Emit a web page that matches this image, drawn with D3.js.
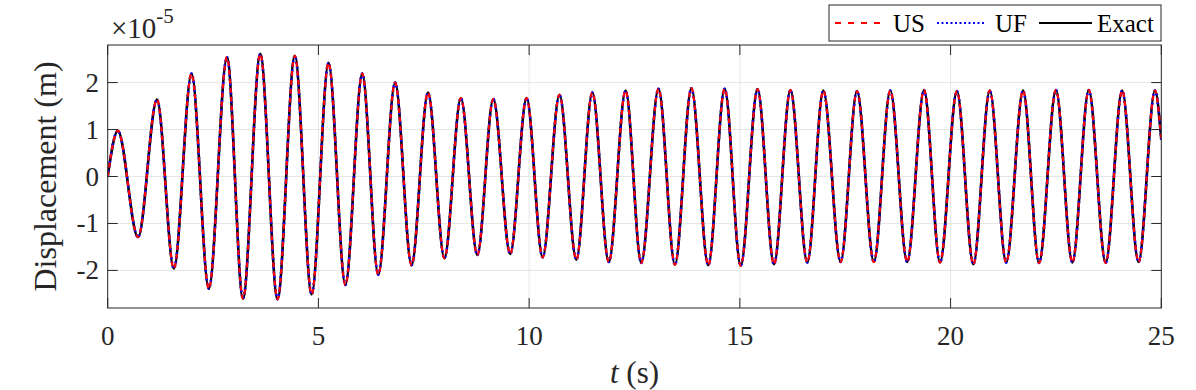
<!DOCTYPE html>
<html>
<head>
<meta charset="utf-8">
<script src="https://cdn.jsdelivr.net/npm/d3@7"></script>
<style>
  body { margin: 0; background: #fff; }
  svg { display: block; }
  svg text { font-family: "Liberation Serif", "Times New Roman", Times, serif; }
</style>
</head>
<body>
<div id="chart"></div>
<script>
// Displacement response (units of 1e-5 m)
// extrema of the oscillation (peaks / troughs), plus the start and end points
const timeS = [0, 0.24, 0.72, 1.17, 1.57, 1.99, 2.40, 2.83, 3.21, 3.62,
  4.03, 4.44, 4.84, 5.24, 5.64, 6.04, 6.42, 6.82, 7.21, 7.60,
  7.99, 8.38, 8.77, 9.15, 9.55, 9.94, 10.32, 10.72, 11.12, 11.50,
  11.89, 12.29, 12.66, 13.07, 13.46, 13.85, 14.25, 14.64, 15.02, 15.42,
  15.81, 16.20, 16.60, 16.98, 17.39, 17.78, 18.18, 18.57, 18.97, 19.37,
  19.75, 20.15, 20.54, 20.93, 21.32, 21.72, 22.10, 22.50, 22.89, 23.28,
  23.68, 24.07, 24.46, 24.85, 25.0];
const exactDisp = [0, 0.975, -1.29, 1.64, -1.96, 2.19, -2.39, 2.54, -2.60, 2.61,
  -2.61, 2.57, -2.51, 2.42, -2.31, 2.19, -2.09, 2.00, -1.89, 1.79,
  -1.74, 1.67, -1.67, 1.65, -1.65, 1.67, -1.72, 1.74, -1.77, 1.79,
  -1.82, 1.83, -1.84, 1.87, -1.88, 1.88, -1.89, 1.87, -1.90, 1.86,
  -1.87, 1.84, -1.83, 1.83, -1.82, 1.82, -1.82, 1.83, -1.82, 1.84,
  -1.83, 1.82, -1.87, 1.83, -1.83, 1.83, -1.84, 1.84, -1.83, 1.84,
  -1.84, 1.83, -1.82, 1.83, 0.78];
// the two schemes sit on top of the exact solution at this scale
const ufDisp = exactDisp.slice();
const usDisp = exactDisp.slice();

const xTicks = [0, 5, 10, 15, 20, 25];
const yTicks = [-2, -1, 0, 1, 2];
const legendNames = ["US", "UF", "Exact"];

// layout
const W = 1196, H = 390;
const plotLeft = 107.7, plotRight = 1161.3, plotTop = 45, plotBottom = 308;
const TICK = 10;
const AXIS_COLOR = "#262626";
const FONT = "Liberation Serif, Times New Roman, Times, serif";

const svg = d3.select("#chart").append("svg")
  .attr("width", W).attr("height", H)
  .attr("font-family", FONT);

const x = d3.scaleLinear().domain([0, 25]).range([plotLeft, plotRight]);
const y = d3.scaleLinear().domain([-2.8, 2.8]).range([plotBottom, plotTop]);

// grid
svg.append("g").selectAll("line").data(xTicks.slice(1, -1)).enter().append("line")
  .attr("x1", d => x(d)).attr("x2", d => x(d))
  .attr("y1", plotTop).attr("y2", plotBottom)
  .attr("stroke", "#e6e6e6").attr("stroke-width", 1);
svg.append("g").selectAll("line").data(yTicks).enter().append("line")
  .attr("x1", plotLeft).attr("x2", plotRight)
  .attr("y1", d => y(d)).attr("y2", d => y(d))
  .attr("stroke", "#e6e6e6").attr("stroke-width", 1);

svg.append("clipPath").attr("id", "plotclip").append("rect")
  .attr("x", plotLeft).attr("y", plotTop)
  .attr("width", plotRight - plotLeft).attr("height", plotBottom - plotTop);

const line = d3.line()
  .x(d => x(d[0])).y(d => y(d[1]))
  .curve(d3.curveMonotoneX);

// drawing order: Exact underneath, then UF, then US on top
const series = [
  { name: "Exact", values: exactDisp, color: "#000000", width: 2.6, dash: null },
  { name: "UF", values: ufDisp, color: "#0000ff", width: 2.6, dash: "2,2.5" },
  { name: "US", values: usDisp, color: "#ff0000", width: 2.2, dash: "5,4" }
];

const curves = svg.append("g").attr("clip-path", "url(#plotclip)");
series.forEach(s => {
  curves.append("path")
    .datum(timeS.map((t, i) => [t, s.values[i]]))
    .attr("d", line)
    .attr("fill", "none")
    .attr("stroke", s.color)
    .attr("stroke-width", s.width)
    .attr("stroke-dasharray", s.dash);
});

// box + inward ticks (MATLAB style)
const axes = svg.append("g").attr("stroke", AXIS_COLOR).attr("stroke-width", 1).attr("fill", "none");
axes.append("rect")
  .attr("x", plotLeft).attr("y", plotTop)
  .attr("width", plotRight - plotLeft).attr("height", plotBottom - plotTop);
xTicks.forEach(t => {
  axes.append("line").attr("x1", x(t)).attr("x2", x(t)).attr("y1", plotBottom).attr("y2", plotBottom - TICK);
  axes.append("line").attr("x1", x(t)).attr("x2", x(t)).attr("y1", plotTop).attr("y2", plotTop + TICK);
});
yTicks.forEach(v => {
  axes.append("line").attr("x1", plotLeft).attr("x2", plotLeft + TICK).attr("y1", y(v)).attr("y2", y(v));
  axes.append("line").attr("x1", plotRight).attr("x2", plotRight - TICK).attr("y1", y(v)).attr("y2", y(v));
});

// tick labels
svg.append("g").selectAll("text").data(xTicks).enter().append("text")
  .attr("x", d => x(d)).attr("y", 345)
  .attr("text-anchor", "middle")
  .attr("font-size", 27).attr("fill", AXIS_COLOR)
  .text(d => d);
svg.append("g").selectAll("text").data(yTicks).enter().append("text")
  .attr("x", 99).attr("y", d => y(d) + 9)
  .attr("text-anchor", "end")
  .attr("font-size", 27).attr("fill", AXIS_COLOR)
  .text(d => d);

// exponent marker
const expo = svg.append("text").attr("x", 111).attr("y", 38)
  .attr("font-size", 29).attr("fill", AXIS_COLOR);
expo.append("tspan").text("\u00d710");
expo.append("tspan").attr("dy", -15).attr("font-size", 21).text("-5");

// axis labels
const xl = svg.append("text").attr("x", (plotLeft + plotRight) / 2).attr("y", 383)
  .attr("text-anchor", "middle").attr("font-size", 31).attr("fill", AXIS_COLOR);
xl.append("tspan").attr("font-style", "italic").text("t");
xl.append("tspan").text(" (s)");

svg.append("text")
  .attr("transform", `translate(56,${(plotTop + plotBottom) / 2}) rotate(-90)`)
  .attr("text-anchor", "middle").attr("font-size", 32).attr("fill", AXIS_COLOR)
  .text("Displacement (m)");

// legend
const legend = svg.append("g");
legend.append("rect")
  .attr("x", 829).attr("y", 5).attr("width", 332).attr("height", 36)
  .attr("fill", "#fff").attr("stroke", AXIS_COLOR).attr("stroke-width", 1);
const legendPos = [
  { x0: 835, x1: 885, tx: 893 },
  { x0: 937, x1: 984, tx: 995 },
  { x0: 1039, x1: 1092, tx: 1097 }
];
legendNames.forEach((name, i) => {
  const s = series.find(d => d.name === name);
  const p = legendPos[i];
  legend.append("line")
    .attr("x1", p.x0).attr("x2", p.x1).attr("y1", 23).attr("y2", 23)
    .attr("stroke", s.color).attr("stroke-width", 2)
    .attr("stroke-dasharray", name === "US" ? "6,7" : s.dash);
  legend.append("text")
    .attr("x", p.tx).attr("y", 32)
    .attr("font-size", 25).attr("fill", "#000")
    .text(name);
});
</script>
</body>
</html>
